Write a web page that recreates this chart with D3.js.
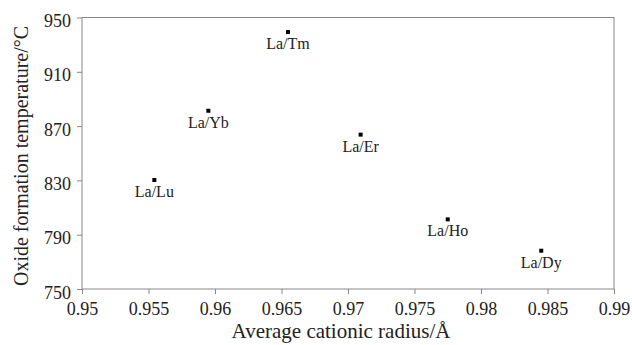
<!DOCTYPE html>
<html>
<head>
<meta charset="utf-8">
<script src="https://cdn.jsdelivr.net/npm/d3@7"></script>
<style>
body { margin: 0; background: #fff; }
svg text { font-family: "Liberation Serif", "Times New Roman", serif; fill: #222; }
.axis path, .axis line { stroke: #888; }
</style>
</head>
<body>
<svg id="chart" width="632" height="345"></svg>
<script>
var names = ["La/Lu", "La/Yb", "La/Tm", "La/Er", "La/Ho", "La/Dy"];
var radius = [0.95544, 0.9595, 0.96549, 0.97095, 0.9775, 0.98453];
var temp = [830.3, 881.3, 939.3, 863.7, 801.3, 778.2];
var xTicks = [0.95, 0.955, 0.96, 0.965, 0.97, 0.975, 0.98, 0.985, 0.99];
var yTicks = [750, 790, 830, 870, 910, 950];

var svg = d3.select("#chart");
var plotL = 82, plotR = 614, plotT = 17.5, plotB = 289;

var x = d3.scaleLinear().domain([0.95, 0.99]).range([plotL, plotR]);
var y = d3.scaleLinear().domain([750, 950]).range([plotB, plotT]);

// frame
svg.append("rect")
  .attr("x", plotL).attr("y", plotT)
  .attr("width", plotR - plotL).attr("height", plotB - plotT)
  .attr("fill", "none").attr("stroke", "#888");

var xAxis = d3.axisBottom(x).tickValues(xTicks).tickSize(5).tickSizeOuter(0)
  .tickFormat(function(d){ return String(+d.toFixed(3)); });
svg.append("g").attr("class", "axis")
  .attr("transform", "translate(0," + plotB + ")")
  .call(xAxis)
  .call(function(g){ g.select(".domain").remove(); })
  .selectAll("text").attr("dy", 0).attr("y", 26).style("font-size", "18px");

var yAxis = d3.axisLeft(y).tickValues(yTicks).tickSize(5).tickSizeOuter(0);
svg.append("g").attr("class", "axis")
  .attr("transform", "translate(" + plotL + ",0)")
  .call(yAxis)
  .call(function(g){ g.select(".domain").remove(); })
  .selectAll("text").style("font-size", "18px").attr("x", -11).attr("dy", "0.5em");

svg.selectAll(".axis .tick line").attr("stroke", "#888");

// points
svg.selectAll("rect.pt")
  .data(names)
  .enter().append("rect")
  .attr("class", "pt")
  .attr("x", function(d, i){ return x(radius[i]) - 2; })
  .attr("y", function(d, i){ return y(temp[i]) - 2; })
  .attr("width", 4).attr("height", 4)
  .attr("fill", "#000");

svg.selectAll("text.lbl")
  .data(names)
  .enter().append("text")
  .attr("class", "lbl")
  .attr("x", function(d, i){ return x(radius[i]); })
  .attr("y", function(d, i){ return y(temp[i]) + 17; })
  .attr("text-anchor", "middle")
  .style("font-size", "16px")
  .text(function(d){ return d; });

svg.append("text")
  .attr("x", 341).attr("y", 338)
  .attr("text-anchor", "middle")
  .style("font-size", "21px")
  .text("Average cationic radius/Å");

svg.append("text")
  .attr("transform", "translate(28,156) rotate(-90)")
  .attr("text-anchor", "middle")
  .style("font-size", "20px")
  .text("Oxide formation temperature/°C");
</script>
</body>
</html>
